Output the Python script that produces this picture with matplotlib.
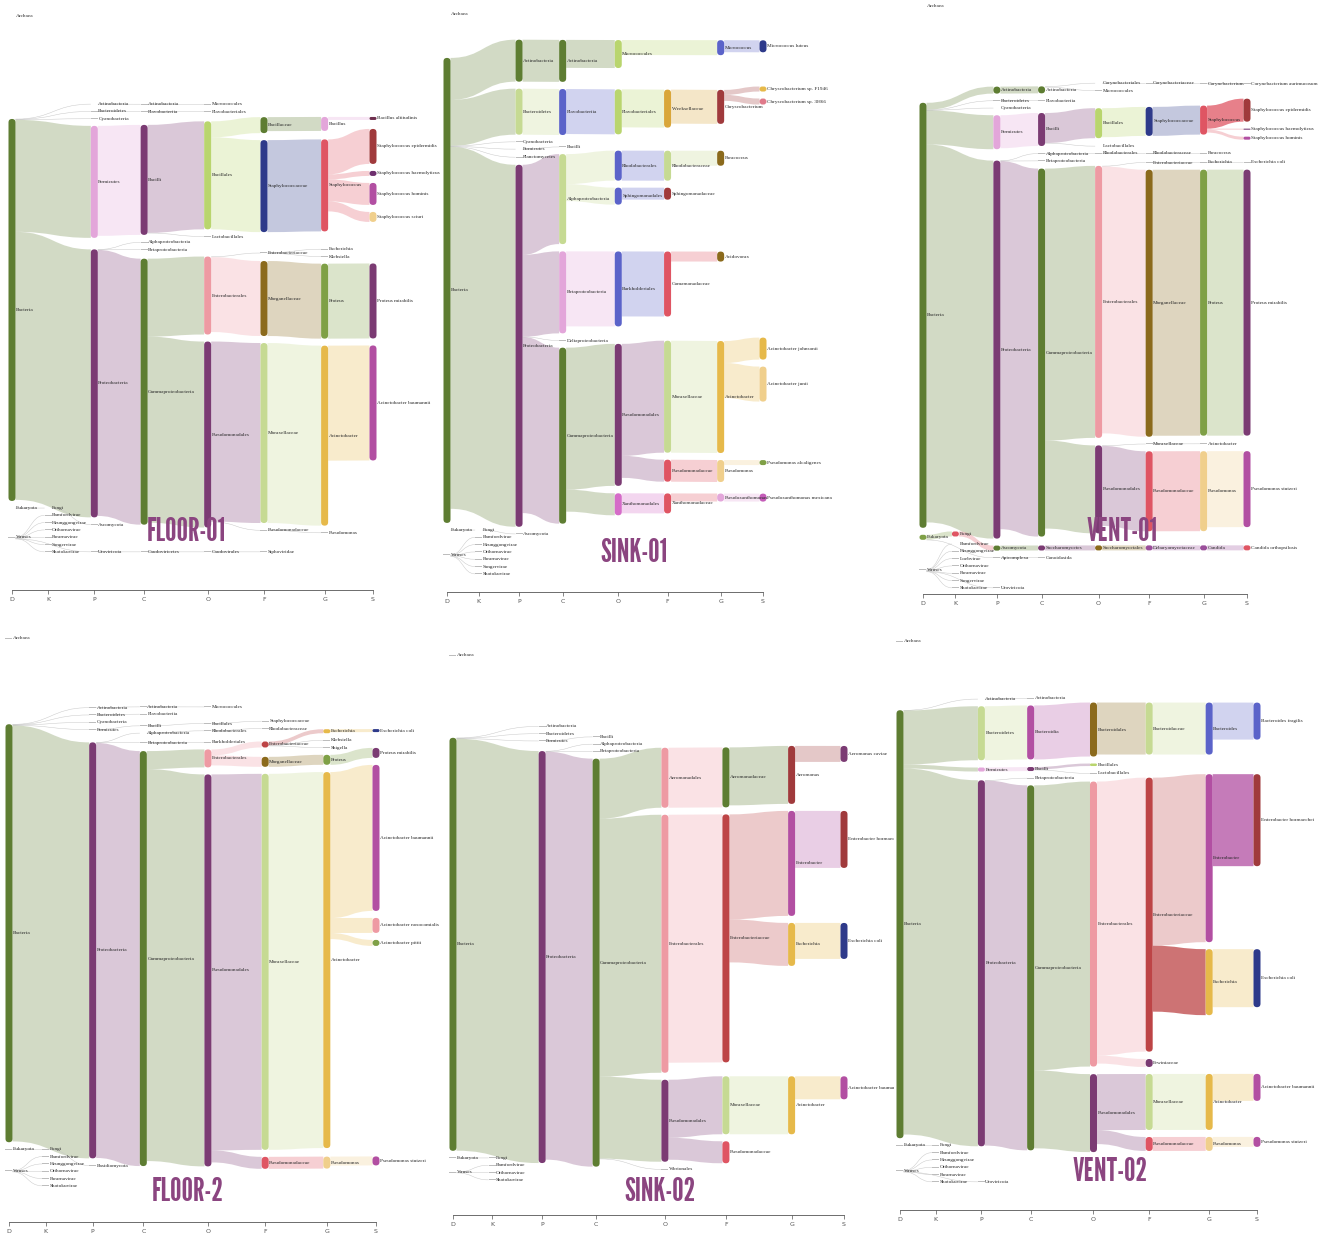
import matplotlib
matplotlib.use('Agg')
import matplotlib.pyplot as plt
from matplotlib.path import Path
from matplotlib.patches import PathPatch, FancyBboxPatch, Rectangle
from matplotlib import font_manager
from matplotlib.font_manager import FontProperties

RANKS = ['D', 'K', 'P', 'C', 'O', 'F', 'G', 'S']
# relative spacing of the rank columns between D and S
RANK_POS = [0.0, 0.10, 0.228, 0.366, 0.542, 0.698, 0.866, 1.0]

T = 0.3  # clades with only a handful of reads

VIR_KINGDOMS = ['Bamfordvirae', 'Heunggongvirae', 'Orthornavirae', 'Pararnavirae',
                'Sangervirae', 'Shotokuvirae']

# (rank, taxon, parent taxon, clade reads)
floor01 = [
    ('D', 'Archaea', None, T), ('D', 'Bacteria', None, 382), ('D', 'Eukaryota', None, T), ('D', 'Viruses', None, T),
    ('K', 'Fungi', 'Eukaryota', T),
] + [('K', k, 'Viruses', T) for k in VIR_KINGDOMS] + [
    ('P', 'Actinobacteria', 'Bacteria', T), ('P', 'Bacteroidetes', 'Bacteria', T), ('P', 'Cyanobacteria', 'Bacteria', T),
    ('P', 'Firmicutes', 'Bacteria', 112), ('P', 'Proteobacteria', 'Bacteria', 268),
    ('P', 'Ascomycota', 'Fungi', T), ('P', 'Uroviricota', 'Viruses', T),
    ('C', 'Actinobacteria', 'Actinobacteria', T), ('C', 'Flavobacteriia', 'Bacteroidetes', T),
    ('C', 'Bacilli', 'Firmicutes', 110), ('C', 'Alphaproteobacteria', 'Proteobacteria', T),
    ('C', 'Betaproteobacteria', 'Proteobacteria', T), ('C', 'Gammaproteobacteria', 'Proteobacteria', 266),
    ('C', 'Caudoviricetes', 'Uroviricota', T),
    ('O', 'Micrococcales', 'Actinobacteria', T), ('O', 'Flavobacteriales', 'Flavobacteriia', T),
    ('O', 'Bacillales', 'Bacilli', 108), ('O', 'Lactobacillales', 'Bacilli', T),
    ('O', 'Enterobacterales', 'Gammaproteobacteria', 78), ('O', 'Pseudomonadales', 'Gammaproteobacteria', 186),
    ('O', 'Caudovirales', 'Caudoviricetes', T),
    ('F', 'Bacillaceae', 'Bacillales', 16), ('F', 'Staphylococcaceae', 'Bacillales', 92),
    ('F', 'Enterobacteriaceae', 'Enterobacterales', 0.5), ('F', 'Morganellaceae', 'Enterobacterales', 75),
    ('F', 'Moraxellaceae', 'Pseudomonadales', 180), ('F', 'Pseudomonadaceae', 'Pseudomonadales', 0.5),
    ('F', 'Siphoviridae', 'Caudovirales', T),
    ('G', 'Bacillus', 'Bacillaceae', 14), ('G', 'Staphylococcus', 'Staphylococcaceae', 92),
    ('G', 'Escherichia', 'Enterobacteriaceae', T), ('G', 'Klebsiella', 'Enterobacteriaceae', T),
    ('G', 'Proteus', 'Morganellaceae', 75), ('G', 'Acinetobacter', 'Moraxellaceae', 180),
    ('G', 'Pseudomonas', 'Pseudomonadaceae', T),
    ('S', 'Bacillus altitudinis', 'Bacillus', 3), ('S', 'Staphylococcus epidermidis', 'Staphylococcus', 35),
    ('S', 'Staphylococcus haemolyticus', 'Staphylococcus', 5), ('S', 'Staphylococcus hominis', 'Staphylococcus', 22),
    ('S', 'Staphylococcus sciuri', 'Staphylococcus', 10), ('S', 'Proteus mirabilis', 'Proteus', 75),
    ('S', 'Acinetobacter baumannii', 'Acinetobacter', 115),
]

sink01 = [
    ('D', 'Archaea', None, T), ('D', 'Bacteria', None, 465), ('D', 'Eukaryota', None, T), ('D', 'Viruses', None, T),
    ('K', 'Fungi', 'Eukaryota', T),
] + [('K', k, 'Viruses', T) for k in VIR_KINGDOMS] + [
    ('P', 'Actinobacteria', 'Bacteria', 42), ('P', 'Bacteroidetes', 'Bacteria', 46),
    ('P', 'Cyanobacteria', 'Bacteria', T), ('P', 'Firmicutes', 'Bacteria', T), ('P', 'Planctomycetes', 'Bacteria', T),
    ('P', 'Proteobacteria', 'Bacteria', 362), ('P', 'Ascomycota', 'Fungi', T),
    ('C', 'Actinobacteria', 'Actinobacteria', 42), ('C', 'Flavobacteriia', 'Bacteroidetes', 46),
    ('C', 'Bacilli', 'Firmicutes', T), ('C', 'Alphaproteobacteria', 'Proteobacteria', 90),
    ('C', 'Betaproteobacteria', 'Proteobacteria', 82), ('C', 'Deltaproteobacteria', 'Proteobacteria', T),
    ('C', 'Gammaproteobacteria', 'Proteobacteria', 176),
    ('O', 'Micrococcales', 'Actinobacteria', 28), ('O', 'Flavobacteriales', 'Flavobacteriia', 45),
    ('O', 'Rhodobacterales', 'Alphaproteobacteria', 30), ('O', 'Sphingomonadales', 'Alphaproteobacteria', 17),
    ('O', 'Burkholderiales', 'Betaproteobacteria', 75), ('O', 'Pseudomonadales', 'Gammaproteobacteria', 142),
    ('O', 'Xanthomonadales', 'Gammaproteobacteria', 22),
    ('F', 'Weeksellaceae', 'Flavobacteriales', 38), ('F', 'Rhodobacteraceae', 'Rhodobacterales', 30),
    ('F', 'Sphingomonadaceae', 'Sphingomonadales', 12), ('F', 'Comamonadaceae', 'Burkholderiales', 65),
    ('F', 'Moraxellaceae', 'Pseudomonadales', 112), ('F', 'Pseudomonadaceae', 'Pseudomonadales', 22),
    ('F', 'Xanthomonadaceae', 'Xanthomonadales', 20),
    ('G', 'Micrococcus', 'Micrococcales', 15), ('G', 'Chryseobacterium', 'Weeksellaceae', 34),
    ('G', 'Paracoccus', 'Rhodobacteraceae', 15), ('G', 'Acidovorax', 'Comamonadaceae', 10),
    ('G', 'Acinetobacter', 'Moraxellaceae', 112), ('G', 'Pseudomonas', 'Pseudomonadaceae', 22),
    ('G', 'Pseudoxanthomonas', 'Xanthomonadaceae', 8),
    ('S', 'Micrococcus luteus', 'Micrococcus', 12), ('S', 'Chryseobacterium sp. F1946', 'Chryseobacterium', 5),
    ('S', 'Chryseobacterium sp. 3H66', 'Chryseobacterium', 6), ('S', 'Acinetobacter johnsonii', 'Acinetobacter', 22),
    ('S', 'Acinetobacter junii', 'Acinetobacter', 35), ('S', 'Pseudomonas alcaligenes', 'Pseudomonas', 5),
    ('S', 'Pseudoxanthomonas mexicana', 'Pseudoxanthomonas', 8),
]

vent01 = [
    ('D', 'Archaea', None, T), ('D', 'Bacteria', None, 425), ('D', 'Eukaryota', None, 5), ('D', 'Viruses', None, T),
    ('K', 'Fungi', 'Eukaryota', 5),
] + [('K', k, 'Viruses', T) for k in ['Bamfordvirae', 'Heunggongvirae', 'Loebvirae', 'Orthornavirae',
                                       'Pararnavirae', 'Sangervirae', 'Shotokuvirae']] + [
    ('P', 'Actinobacteria', 'Bacteria', 7), ('P', 'Bacteroidetes', 'Bacteria', T), ('P', 'Cyanobacteria', 'Bacteria', T),
    ('P', 'Firmicutes', 'Bacteria', 34), ('P', 'Proteobacteria', 'Bacteria', 378),
    ('P', 'Ascomycota', 'Fungi', 5), ('P', 'Apicomplexa', 'Eukaryota', T), ('P', 'Uroviricota', 'Viruses', T),
    ('C', 'Actinobacteria', 'Actinobacteria', 7), ('C', 'Flavobacteriia', 'Bacteroidetes', T),
    ('C', 'Bacilli', 'Firmicutes', 33), ('C', 'Alphaproteobacteria', 'Proteobacteria', T),
    ('C', 'Betaproteobacteria', 'Proteobacteria', T), ('C', 'Gammaproteobacteria', 'Proteobacteria', 368),
    ('C', 'Saccharomycetes', 'Ascomycota', 5), ('C', 'Conoidasida', 'Apicomplexa', T),
    ('O', 'Corynebacteriales', 'Actinobacteria', 0.5), ('O', 'Micrococcales', 'Actinobacteria', 0.5),
    ('O', 'Bacillales', 'Bacilli', 30), ('O', 'Lactobacillales', 'Bacilli', T),
    ('O', 'Rhodobacterales', 'Alphaproteobacteria', T), ('O', 'Enterobacterales', 'Gammaproteobacteria', 272),
    ('O', 'Pseudomonadales', 'Gammaproteobacteria', 88), ('O', 'Saccharomycetales', 'Saccharomycetes', 5),
    ('F', 'Corynebacteriaceae', 'Corynebacteriales', 0.5), ('F', 'Staphylococcaceae', 'Bacillales', 29),
    ('F', 'Rhodobacteraceae', 'Rhodobacterales', T), ('F', 'Enterobacteriaceae', 'Enterobacterales', 0.5),
    ('F', 'Morganellaceae', 'Enterobacterales', 267), ('F', 'Moraxellaceae', 'Pseudomonadales', 0.5),
    ('F', 'Pseudomonadaceae', 'Pseudomonadales', 80), ('F', 'Debaryomycetaceae', 'Saccharomycetales', 5),
    ('G', 'Corynebacterium', 'Corynebacteriaceae', 0.5), ('G', 'Staphylococcus', 'Staphylococcaceae', 29),
    ('G', 'Paracoccus', 'Rhodobacteraceae', T), ('G', 'Escherichia', 'Enterobacteriaceae', T),
    ('G', 'Proteus', 'Morganellaceae', 266), ('G', 'Acinetobacter', 'Moraxellaceae', T),
    ('G', 'Pseudomonas', 'Pseudomonadaceae', 80), ('G', 'Candida', 'Debaryomycetaceae', 5),
    ('S', 'Corynebacterium aurimucosum', 'Corynebacterium', T),
    ('S', 'Staphylococcus epidermidis', 'Staphylococcus', 23), ('S', 'Staphylococcus haemolyticus', 'Staphylococcus', 1),
    ('S', 'Staphylococcus hominis', 'Staphylococcus', 3), ('S', 'Escherichia coli', 'Escherichia', T),
    ('S', 'Proteus mirabilis', 'Proteus', 266), ('S', 'Pseudomonas stutzeri', 'Pseudomonas', 76),
    ('S', 'Candida orthopsilosis', 'Candida', 5),
]

floor02 = [
    ('D', 'Archaea', None, T), ('D', 'Bacteria', None, 418), ('D', 'Eukaryota', None, T), ('D', 'Viruses', None, T),
    ('K', 'Fungi', 'Eukaryota', T),
] + [('K', k, 'Viruses', T) for k in ['Bamfordvirae', 'Heunggongvirae', 'Orthornavirae',
                                       'Pararnavirae', 'Shotokuvirae']] + [
    ('P', 'Actinobacteria', 'Bacteria', T), ('P', 'Bacteroidetes', 'Bacteria', T), ('P', 'Cyanobacteria', 'Bacteria', T),
    ('P', 'Firmicutes', 'Bacteria', T), ('P', 'Proteobacteria', 'Bacteria', 416), ('P', 'Basidiomycota', 'Fungi', T),
    ('C', 'Actinobacteria', 'Actinobacteria', T), ('C', 'Flavobacteriia', 'Bacteroidetes', T),
    ('C', 'Bacilli', 'Firmicutes', T), ('C', 'Alphaproteobacteria', 'Proteobacteria', T),
    ('C', 'Betaproteobacteria', 'Proteobacteria', T), ('C', 'Gammaproteobacteria', 'Proteobacteria', 415),
    ('O', 'Micrococcales', 'Actinobacteria', T), ('O', 'Bacillales', 'Bacilli', T),
    ('O', 'Rhodobacterales', 'Alphaproteobacteria', T), ('O', 'Burkholderiales', 'Betaproteobacteria', T),
    ('O', 'Enterobacterales', 'Gammaproteobacteria', 18), ('O', 'Pseudomonadales', 'Gammaproteobacteria', 392),
    ('F', 'Staphylococcaceae', 'Bacillales', T), ('F', 'Rhodobacteraceae', 'Rhodobacterales', T),
    ('F', 'Enterobacteriaceae', 'Enterobacterales', 6), ('F', 'Morganellaceae', 'Enterobacterales', 10),
    ('F', 'Moraxellaceae', 'Pseudomonadales', 376), ('F', 'Pseudomonadaceae', 'Pseudomonadales', 12),
    ('G', 'Escherichia', 'Enterobacteriaceae', 4), ('G', 'Klebsiella', 'Enterobacteriaceae', T),
    ('G', 'Shigella', 'Enterobacteriaceae', T), ('G', 'Proteus', 'Morganellaceae', 10),
    ('G', 'Acinetobacter', 'Moraxellaceae', 376), ('G', 'Pseudomonas', 'Pseudomonadaceae', 12),
    ('S', 'Escherichia coli', 'Escherichia', 3), ('S', 'Proteus mirabilis', 'Proteus', 10),
    ('S', 'Acinetobacter baumannii', 'Acinetobacter', 146), ('S', 'Acinetobacter nosocomialis', 'Acinetobacter', 15),
    ('S', 'Acinetobacter pittii', 'Acinetobacter', 6), ('S', 'Pseudomonas stutzeri', 'Pseudomonas', 9),
]

sink02 = [
    ('D', 'Archaea', None, T), ('D', 'Bacteria', None, 413), ('D', 'Eukaryota', None, T), ('D', 'Viruses', None, T),
    ('K', 'Fungi', 'Eukaryota', T),
] + [('K', k, 'Viruses', T) for k in ['Bamfordvirae', 'Orthornavirae', 'Shotokuvirae']] + [
    ('P', 'Actinobacteria', 'Bacteria', T), ('P', 'Bacteroidetes', 'Bacteria', T), ('P', 'Firmicutes', 'Bacteria', T),
    ('P', 'Proteobacteria', 'Bacteria', 412),
    ('C', 'Bacilli', 'Firmicutes', T), ('C', 'Alphaproteobacteria', 'Proteobacteria', T),
    ('C', 'Betaproteobacteria', 'Proteobacteria', T), ('C', 'Gammaproteobacteria', 'Proteobacteria', 408),
    ('O', 'Aeromonadales', 'Gammaproteobacteria', 60), ('O', 'Enterobacterales', 'Gammaproteobacteria', 258),
    ('O', 'Pseudomonadales', 'Gammaproteobacteria', 82), ('O', 'Vibrionales', 'Gammaproteobacteria', 0.5),
    ('F', 'Aeromonadaceae', 'Aeromonadales', 60), ('F', 'Enterobacteriaceae', 'Enterobacterales', 248),
    ('F', 'Moraxellaceae', 'Pseudomonadales', 58), ('F', 'Pseudomonadaceae', 'Pseudomonadales', 22),
    ('G', 'Aeromonas', 'Aeromonadaceae', 58), ('G', 'Enterobacter', 'Enterobacteriaceae', 105),
    ('G', 'Escherichia', 'Enterobacteriaceae', 43), ('G', 'Acinetobacter', 'Moraxellaceae', 58),
    ('S', 'Aeromonas caviae', 'Aeromonas', 16), ('S', 'Enterobacter hormaechei', 'Enterobacter', 57),
    ('S', 'Escherichia coli', 'Escherichia', 36), ('S', 'Acinetobacter baumannii', 'Acinetobacter', 23),
]

vent02 = [
    ('D', 'Archaea', None, T), ('D', 'Bacteria', None, 428), ('D', 'Eukaryota', None, T), ('D', 'Viruses', None, T),
    ('K', 'Fungi', 'Eukaryota', T),
] + [('K', k, 'Viruses', T) for k in ['Bamfordvirae', 'Heunggongvirae', 'Orthornavirae',
                                       'Pararnavirae', 'Shotokuvirae']] + [
    ('P', 'Actinobacteria', 'Bacteria', T), ('P', 'Bacteroidetes', 'Bacteria', 54), ('P', 'Firmicutes', 'Bacteria', 4),
    ('P', 'Proteobacteria', 'Bacteria', 366), ('P', 'Uroviricota', 'Viruses', T),
    ('C', 'Actinobacteria', 'Actinobacteria', T), ('C', 'Bacteroidia', 'Bacteroidetes', 54),
    ('C', 'Bacilli', 'Firmicutes', 4), ('C', 'Betaproteobacteria', 'Proteobacteria', T),
    ('C', 'Gammaproteobacteria', 'Proteobacteria', 365),
    ('O', 'Bacteroidales', 'Bacteroidia', 54), ('O', 'Bacillales', 'Bacilli', 2.5),
    ('O', 'Lactobacillales', 'Bacilli', 0.8), ('O', 'Enterobacterales', 'Gammaproteobacteria', 285),
    ('O', 'Pseudomonadales', 'Gammaproteobacteria', 78),
    ('F', 'Bacteroidaceae', 'Bacteroidales', 52), ('F', 'Enterobacteriaceae', 'Enterobacterales', 274),
    ('F', 'Erwiniaceae', 'Enterobacterales', 8), ('F', 'Moraxellaceae', 'Pseudomonadales', 56),
    ('F', 'Pseudomonadaceae', 'Pseudomonadales', 14),
    ('G', 'Bacteroides', 'Bacteroidaceae', 52), ('G', 'Enterobacter', 'Enterobacteriaceae', 168),
    ('G', 'Escherichia', 'Enterobacteriaceae', 66), ('G', 'Acinetobacter', 'Moraxellaceae', 56),
    ('G', 'Pseudomonas', 'Pseudomonadaceae', 14),
    ('S', 'Bacteroides fragilis', 'Bacteroides', 37), ('S', 'Enterobacter hormaechei', 'Enterobacter', 92),
    ('S', 'Escherichia coli', 'Escherichia', 58), ('S', 'Acinetobacter baumannii', 'Acinetobacter', 27),
    ('S', 'Pseudomonas stutzeri', 'Pseudomonas', 10),
]

# node colours by taxon
DG, PU, PK, LG, PG = '#5e7d32', '#7b3b73', '#e3a6da', '#b9d56e', '#c6da93'
NV, RD, SA, BR, OL = '#2e3a8a', '#df5563', '#ee9aa3', '#8b6a1c', '#7fa046'
GD, TN, MG, DR, BL = '#e6b94a', '#f0cf8c', '#b24fa2', '#a03a3c', '#5b63c9'
COLORS = {
    'Bacteria': DG, 'Proteobacteria': PU, 'Gammaproteobacteria': DG, 'Firmicutes': PK, 'Bacilli': PU,
    'Bacillales': LG, 'Staphylococcaceae': NV, 'Staphylococcus': RD, 'Bacillaceae': DG, 'Bacillus': PK,
    'Enterobacterales': SA, 'Pseudomonadales': PU, 'Morganellaceae': BR, 'Moraxellaceae': PG, 'Proteus': OL,
    'Acinetobacter': GD, 'Proteus mirabilis': PU, 'Acinetobacter baumannii': MG,
    'Staphylococcus epidermidis': DR, 'Staphylococcus haemolyticus': '#6e2f6e', 'Staphylococcus hominis': MG,
    'Staphylococcus sciuri': TN, 'Bacillus altitudinis': '#6e2f4e', 'Pseudomonadaceae': RD, 'Pseudomonas': TN,
    'Pseudomonas stutzeri': MG, 'Enterobacteriaceae': '#bd4446', 'Escherichia': GD, 'Escherichia coli': NV,
    'Actinobacteria': DG, 'Bacteroidetes': PG, 'Flavobacteriia': BL, 'Micrococcales': LG,
    'Flavobacteriales': LG, 'Micrococcus': BL, 'Micrococcus luteus': NV, 'Weeksellaceae': '#d9a63a',
    'Chryseobacterium': DR, 'Chryseobacterium sp. F1946': GD, 'Chryseobacterium sp. 3H66': '#e07a8a',
    'Alphaproteobacteria': PG, 'Betaproteobacteria': PK, 'Rhodobacterales': BL, 'Sphingomonadales': BL,
    'Burkholderiales': BL, 'Rhodobacteraceae': PG, 'Paracoccus': BR, 'Sphingomonadaceae': DR,
    'Comamonadaceae': RD, 'Acidovorax': BR, 'Acinetobacter johnsonii': GD, 'Acinetobacter junii': TN,
    'Pseudomonas alcaligenes': OL, 'Xanthomonadales': '#d56cc8', 'Xanthomonadaceae': RD,
    'Pseudoxanthomonas': PK, 'Pseudoxanthomonas mexicana': '#c45cb8', 'Eukaryota': OL, 'Fungi': RD,
    'Ascomycota': DG, 'Saccharomycetes': PU, 'Saccharomycetales': BR, 'Debaryomycetaceae': '#9b4f9b',
    'Candida': '#9b4f9b', 'Candida orthopsilosis': RD, 'Aeromonadales': SA, 'Aeromonadaceae': DG,
    'Aeromonas': DR, 'Aeromonas caviae': PU, 'Enterobacter': MG, 'Enterobacter hormaechei': DR,
    'Acinetobacter nosocomialis': SA, 'Acinetobacter pittii': OL, 'Bacteroidia': MG, 'Bacteroidales': BR,
    'Bacteroidaceae': PG, 'Bacteroides': BL, 'Bacteroides fragilis': BL, 'Erwiniaceae': PU,
}

# links drawn in a stronger tint, keyed by panel and target taxon
STRONG_LINKS = {
    'VENT-01': ['Staphylococcus epidermidis'],
    'VENT-02': ['Escherichia', 'Enterobacter hormaechei'],
}

# panel: data, title, box, x of D and S columns, top / bottom of the node area, axis line, title centre
PANELS = [
    (floor01, 'FLOOR-01', (0, 440, 0, 618), 12, 373, 16, 552, 590, (186, 532)),
    (sink01, 'SINK-01', (440, 894, 0, 618), 447, 763, 14, 574, 592, (634, 553)),
    (vent01, 'VENT-01', (894, 1322, 0, 618), 923, 1247, 6, 588, 594, (1122, 532)),
    (floor02, 'FLOOR-2', (0, 440, 618, 1236), 9, 376, 638, 1186, 1222, (188, 1192)),
    (sink02, 'SINK-02', (440, 894, 618, 1236), 453, 844, 655, 1180, 1215, (660, 1192)),
    (vent02, 'VENT-02', (894, 1322, 618, 1236), 900, 1257, 641, 1182, 1210, (1110, 1172)),
]

W, H = 1322, 1236
NW = 7.0    # node bar width
PAD = 7.0   # gap between nodes in a column
ITERS = 32  # relaxation passes


def build(rows):
    nodes = []
    for rank, name, parent, reads in rows:
        r = RANKS.index(rank)
        p = None
        if parent is not None:
            cands = [i for i, n in enumerate(nodes) if n['name'] == parent and n['r'] < r]
            p = max(cands, key=lambda i: nodes[i]['r'])
        nodes.append(dict(name=name, r=r, parent=p, v=reads, kids=[]))
    for i, n in enumerate(nodes):
        if n['parent'] is not None:
            nodes[n['parent']]['kids'].append(i)
    return nodes


def layout(nodes, top, bottom, iters=ITERS):
    # d3-sankey style relaxation on link positions; columns keep their order,
    # start stacked against the bottom, isolated taxa start at the top
    cols = [[i for i, n in enumerate(nodes) if n['r'] == r] for r in range(len(RANKS))]
    cols = [c for c in cols if c]

    def move(n, dy):
        n['y0'] += dy
        n['y1'] += dy

    for c in cols:
        y = bottom
        for i in reversed(c):
            n = nodes[i]
            n['y1'] = y
            n['y0'] = y - n['v']
            y = n['y0'] - PAD
    for n in nodes:
        if n['parent'] is None and not n['kids']:
            n['y0'], n['y1'] = top, top + n['v']

    def target_top(s, t):
        sn = nodes[s]
        y = sn['y0'] - (len(sn['kids']) - 1) * PAD / 2
        for k in sn['kids']:
            if k == t:
                break
            y += nodes[k]['v'] + PAD
        return y

    def source_top(s, t):
        y = nodes[t]['y0']
        for k in nodes[s]['kids']:
            if k == t:
                break
            y -= nodes[k]['v']
        return y

    def down(c, y, i, a):
        for k in range(i, len(c)):
            n = nodes[c[k]]
            dy = (y - n['y0']) * a
            if dy > 1e-6:
                move(n, dy)
            y = n['y1'] + PAD

    def up(c, y, i, a):
        for k in range(i, -1, -1):
            n = nodes[c[k]]
            dy = (n['y1'] - y) * a
            if dy > 1e-6:
                move(n, -dy)
            y = n['y0'] - PAD

    def collide(c, a):
        i = len(c) >> 1
        s = nodes[c[i]]
        up(c, s['y0'] - PAD, i - 1, a)
        down(c, s['y1'] + PAD, i + 1, a)
        up(c, bottom, len(c) - 1, a)
        down(c, top, 0, a)

    for it in range(iters):
        alpha = 0.99 ** it
        beta = max(1 - alpha, (it + 1) / iters)
        for c in reversed(cols[:-1]):
            for s in c:
                kids = nodes[s]['kids']
                if not kids:
                    continue
                wsum = sum(nodes[k]['v'] * (nodes[k]['r'] - nodes[s]['r']) for k in kids)
                ysum = sum(source_top(s, k) * nodes[k]['v'] * (nodes[k]['r'] - nodes[s]['r']) for k in kids)
                move(nodes[s], (ysum / wsum - nodes[s]['y0']) * alpha)
            collide(c, beta)
        for c in cols[1:]:
            for t in c:
                p = nodes[t]['parent']
                if p is None:
                    continue
                move(nodes[t], (target_top(p, t) - nodes[t]['y0']) * alpha)
            collide(c, beta)


def band(ax, xs, sy0, sy1, xt, ty0, ty1, color, alpha):
    xm = (xs + xt) / 2
    verts = [(xs, sy0), (xm, sy0), (xm, ty0), (xt, ty0), (xt, ty1),
             (xm, ty1), (xm, sy1), (xs, sy1), (xs, sy0)]
    codes = [Path.MOVETO, Path.CURVE4, Path.CURVE4, Path.CURVE4, Path.LINETO,
             Path.CURVE4, Path.CURVE4, Path.CURVE4, Path.CLOSEPOLY]
    ax.add_patch(PathPatch(Path(verts, codes), facecolor=color, edgecolor='none', alpha=alpha, zorder=1))


def thin_link(ax, xs, ys, xt, yt):
    xm = (xs + xt) / 2
    verts = [(xs, ys), (xm, ys), (xm, yt), (xt, yt)]
    codes = [Path.MOVETO, Path.CURVE4, Path.CURVE4, Path.CURVE4]
    ax.add_patch(PathPatch(Path(verts, codes), facecolor='none', edgecolor='#c8c8c8', lw=0.35, zorder=1))


def title_props():
    prefs = ['leaguegothic', 'bebasneue', 'antonio', 'oswald', 'sairaextracondensed',
             'barlowcondensed', 'firasansextracondensed']
    files = [f.fname for f in font_manager.fontManager.ttflist]
    for key in prefs:
        hits = [f for f in files if key in f.split('/')[-1].lower().replace('-', '').replace('_', '')]
        if hits:
            return FontProperties(fname=sorted(hits)[0], size=23)
    return FontProperties(family='DejaVu Sans', weight='bold', size=17)


LABEL_FONT = ['Liberation Serif', 'DejaVu Serif']
TITLE_FP = title_props()

fig = plt.figure(figsize=(W / 100, H / 100), dpi=100)

for rows, title, box, xd, xs_, top, bottom, axis_y, tpos in PANELS:
    x0, x1, y0, y1 = box
    ax = fig.add_axes([x0 / W, 1 - y1 / H, (x1 - x0) / W, (y1 - y0) / H])
    ax.set_xlim(x0, x1)
    ax.set_ylim(y1, y0)
    ax.patch.set_alpha(0)

    nodes = build(rows)
    layout(nodes, top, bottom)
    colx = [xd + p * (xs_ - xd) for p in RANK_POS]
    strong = STRONG_LINKS.get(title, [])

    for n in nodes:
        n['col'] = COLORS.get(n['name'], '#a9a9a9')
        n['x'] = colx[n['r']]

    # links: children leave the parent stacked from its top
    for n in nodes:
        off = n['y0']
        for k in n['kids']:
            c = nodes[k]
            xa, xb = n['x'] + NW / 2, c['x'] - NW / 2
            if c['v'] < 1:
                thin_link(ax, xa, off + c['v'] / 2, xb, c['y0'] + c['v'] / 2)
            else:
                a = 0.75 if c['name'] in strong else 0.28
                band(ax, xa, off, off + c['v'], xb, c['y0'], c['y0'] + c['v'], n['col'], a)
            off += c['v']

    for n in nodes:
        h = n['y1'] - n['y0']
        if h < 1:
            ax.add_patch(Rectangle((n['x'] - NW / 2, n['y0'] - 0.4), NW, 0.9,
                                   facecolor='#bdbdbd', edgecolor='none', zorder=2))
        else:
            rs = min(NW / 2, h / 2)
            ax.add_patch(FancyBboxPatch((n['x'] - NW / 2, n['y0']), NW, h,
                                        boxstyle=f'round,pad=0,rounding_size={rs}',
                                        facecolor=n['col'], edgecolor='none', zorder=3))
        ax.text(n['x'] + NW / 2 + 0.5, (n['y0'] + n['y1']) / 2, n['name'], fontsize=3.8,
                family=LABEL_FONT, color='#262626', ha='left', va='center', zorder=4, clip_on=True)

    ax.text(tpos[0], tpos[1], title, fontproperties=TITLE_FP, color='#8b4580',
            ha='center', va='center', zorder=5)

    # rank axis under the diagram
    for side in ('top', 'left', 'right'):
        ax.spines[side].set_visible(False)
    ax.spines['bottom'].set_position(('data', axis_y))
    ax.spines['bottom'].set_bounds(colx[0], colx[-1])
    ax.spines['bottom'].set_color('#555555')
    ax.spines['bottom'].set_linewidth(0.6)
    ax.set_xticks(colx)
    ax.set_xticklabels(RANKS)
    ax.tick_params(axis='x', direction='out', length=3, width=0.5, colors='#555555',
                   labelsize=4.5, pad=2)
    ax.set_yticks([])

fig.savefig('out.png', dpi=100)
